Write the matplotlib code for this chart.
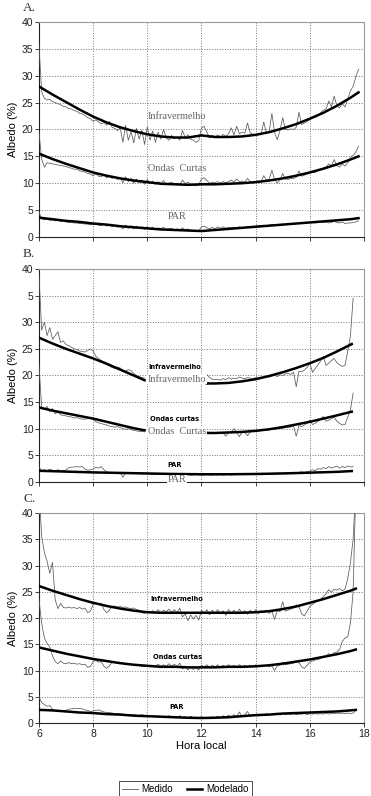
import matplotlib
matplotlib.use("Agg")
import matplotlib.pyplot as plt
import numpy as np

nan = np.nan

# ---------------- Painel A ----------------
a_ir_med = [35.7, 27.0, 25.8, 25.5, 25.6, 25.2, 25.0, 24.8, 24.6, 24.3,
            24.2, 23.9, 23.8, 23.5, 23.4, 23.0, 22.9, 22.6, 22.2, 22.0,
            21.5, 21.8, 21.4, 21.0, 21.3, 20.8, 21.5, 20.4, 20.2, 19.8,
            20.3, 17.6, 20.8, 18.0, 19.6, 17.5, 20.2, 18.2, 19.9, 17.2,
            20.5, 18.0, 19.7, 17.6, 19.5, 18.2, 20.0, 18.4, 18.0, 18.9,
            18.3, 18.6, 18.0, 19.8, 18.5, 19.0, 18.2, 18.0, 17.6, 17.9,
            20.3, 20.6, 19.5, 18.4, 18.9, 18.6, 19.0, 18.5, 19.1, 18.7,
            19.2, 20.3, 19.0, 20.6, 19.2, 19.5, 19.3, 21.2, 19.4, 19.1,
            19.0, 19.2, 19.0, 21.4, 19.3, 19.6, 23.0, 19.4, 18.1, 19.8,
            22.2, 20.0, 19.9, 20.1, 20.0, 20.4, 23.2, 20.9, 21.2, 21.5,
            21.9, 22.3, 22.2, 22.7, 23.1, 23.6, 23.8, 25.3, 24.2, 26.2,
            24.4, 24.0, 24.8, 24.2, 25.6, 27.2, 28.0, 29.8, 31.2]
a_oc_med = [19.5, 14.5, 13.0, 13.8, 13.7, 13.6, 13.5, 13.4, 13.3, 13.2,
            13.1, 12.9, 12.8, 12.6, 12.6, 12.3, 12.2, 12.1, 11.8, 11.7,
            11.4, 11.8, 11.3, 11.2, 11.6, 11.0, 11.3, 10.9, 11.2, 10.7,
            11.0, 10.1, 11.2, 10.3, 10.9, 10.0, 10.8, 10.1, 10.6, 9.8,
            10.7, 9.9, 10.4, 9.8, 10.3, 9.9, 10.5, 9.8, 10.0, 10.2,
            9.8, 10.0, 9.7, 10.6, 9.9, 10.2, 9.8, 9.7, 9.5, 9.7,
            10.8, 11.0, 10.5, 10.0, 10.2, 10.1, 10.3, 10.0, 10.3, 10.1,
            10.3, 10.6, 10.2, 10.8, 10.3, 10.4, 10.2, 10.9, 10.3, 10.2,
            10.2, 10.4, 10.3, 11.4, 10.6, 10.8, 12.4, 10.7, 10.0, 10.6,
            11.8, 10.8, 10.7, 10.9, 10.9, 11.1, 12.3, 11.3, 11.5, 11.7,
            11.9, 12.1, 12.0, 12.4, 12.6, 12.8, 13.0, 13.6, 13.2, 14.4,
            13.3, 13.0, 13.6, 13.2, 13.8, 14.8, 15.2, 15.8, 16.9]
a_par_med = [4.6, 3.4, 3.2, 3.3, 3.1, 3.2, 3.0, 3.1, 2.9, 2.9,
             2.8, 2.7, 2.7, 2.6, 2.6, 2.5, 2.5, 2.4, 2.4, 2.3,
             2.3, 2.5, 2.2, 2.1, 2.4, 2.0, 2.3, 1.9, 2.2, 1.8,
             2.1, 1.5, 2.2, 1.6, 2.1, 1.5, 2.0, 1.6, 1.9, 1.4,
             1.9, 1.5, 1.8, 1.4, 1.7, 1.5, 1.8, 1.4, 1.5, 1.6,
             1.3, 1.5, 1.3, 1.7, 1.3, 1.5, 1.2, 1.1, 1.0, 1.1,
             1.9, 2.0, 1.7, 1.5, 1.8, 1.5, 1.9, 1.6, 1.9, 1.6,
             1.8, 1.7, 1.8, 1.7, 1.9, 1.7, 1.8, 1.9, 1.9, 2.0,
             2.0, 2.1, 2.0, 2.2, 2.1, 2.2, 2.3, 2.2, 2.2, 2.3,
             2.4, 2.3, 2.4, 2.4, 2.5, 2.5, 2.6, 2.5, 2.6, 2.6,
             2.7, 2.7, 2.6, 2.7, 2.8, 2.7, 2.8, 2.6, 2.7, 2.9,
             2.7, 2.6, 2.8, 2.5, 2.6, 2.6, 2.7, 2.8, 3.0]
a_mod_t = [6.0, 6.5, 7.0, 7.5, 8.0, 8.5, 9.0, 9.5, 10.0, 10.5, 11.0, 11.5,
           12.0, 12.5, 13.0, 13.5, 14.0, 14.5, 15.0, 15.5, 16.0, 16.5,
           17.0, 17.5, 17.8]
a_ir_mod = [28.0, 26.5, 25.1, 23.7, 22.4, 21.3, 20.4, 19.7, 19.1, 18.7,
            18.5, 18.5, 18.9, 18.6, 18.6, 18.7, 19.0, 19.5, 20.2, 21.0,
            22.0, 23.1, 24.4, 25.9, 26.9]
a_oc_mod = [15.5, 14.5, 13.6, 12.8, 12.0, 11.4, 10.9, 10.5, 10.2, 9.9,
            9.8, 9.7, 9.8, 9.8, 9.9, 10.0, 10.2, 10.5, 10.9, 11.4,
            12.0, 12.7, 13.5, 14.4, 15.0]
a_par_mod = [3.6, 3.3, 3.0, 2.8, 2.5, 2.3, 2.0, 1.8, 1.6, 1.4,
             1.3, 1.2, 1.1, 1.3, 1.5, 1.7, 1.9, 2.1, 2.3, 2.5,
             2.7, 2.9, 3.1, 3.3, 3.5]

# ---------------- Painel B ----------------
b_ir_med = ([39.0, 28.5, 30.0, 27.5, 29.0, 26.8, 27.5, 28.2, 26.2, 26.5,
             25.8, 25.6, 25.3, 25.0, 24.9, 24.6, 24.5, 24.4, 24.7, 25.0,
             24.6, 23.6, 23.2, 22.8, 22.6, 22.2, 21.8, 21.5, 21.3, 21.6,
             21.4, 21.0, 20.8, 21.1, 20.9, 20.4, 20.0, 19.8, 19.6, 19.5]
            + [nan] * 22 +
            [20.2, 19.6, 19.3, 19.2, 19.3, 19.1, 19.4, 19.2,
             19.6, 19.3, 19.5, 19.4, 19.7, 19.5, 19.4, 19.6, 19.5, 19.4,
             19.6, 19.5, 19.7, 19.6, 19.8, 19.7, 19.9, 20.0, 19.8, 20.1,
             20.0, 20.3, 20.4, 20.2, 20.6, 17.9, 20.8, 20.7, 21.0, 21.5,
             22.4, 20.6, 21.3, 22.0, 22.7, 23.6, 21.9, 22.3, 22.8, 23.2,
             22.4, 22.0, 21.7, 21.9, 24.5, 27.4, 34.5])
b_oc_med = ([22.0, 14.0, 13.6, 14.2, 13.2, 13.8, 12.8, 13.2, 12.6, 12.5,
             12.4, 12.3, 12.2, 12.0, 12.1, 11.9, 11.8, 11.8, 11.9, 12.0,
             11.8, 11.3, 11.1, 11.0, 10.8, 10.7, 10.5, 10.4, 10.3, 10.4,
             10.2, 10.0, 9.9, 10.0, 9.8, 9.7, 9.6, 9.5, 9.5, 9.4]
            + [nan] * 22 +
            [9.4, 9.3, 9.3, 9.2, 9.3, 9.3, 9.2, 8.6,
             9.3, 9.4, 10.0, 9.3, 8.5, 9.4, 9.3, 8.7, 9.4, 9.5,
             9.5, 9.6, 9.6, 9.7, 9.7, 9.8, 9.9, 9.9, 10.0, 10.1,
             10.1, 10.2, 10.3, 10.3, 10.5, 8.6, 10.6, 10.4, 10.7, 11.0,
             11.6, 10.8, 11.0, 11.4, 11.8, 12.3, 11.4, 11.6, 11.9, 12.2,
             11.4, 11.0, 10.7, 10.8, 12.2, 13.5, 16.7])
b_par_med = [2.8, 2.1, 2.3, 2.1, 2.4, 2.2, 2.1, 2.3, 2.1, 2.2,
             2.2, 2.7, 2.8, 2.8, 2.9, 2.8, 2.9, 2.4, 2.2, 2.3,
             2.4, 2.8, 2.6, 2.9, 2.3, 1.9, 1.8, 1.8, 1.7, 1.8,
             1.7, 0.9, 1.7, 1.6, 1.6, 1.7, 1.6, 1.6, 1.5, 1.6,
             1.5, 1.5, 1.4, 1.5, 1.4, 1.5, 1.4, 1.4, 1.5, 1.4,
             1.4, 1.3, 1.4, 1.4, 1.3, 1.4, 1.3, 1.3, 1.4, 1.3,
             1.3, 1.3, 1.4, 1.3, 1.3, 1.4, 1.3, 1.4, 1.3, 1.4,
             1.4, 1.3, 1.4, 1.4, 1.4, 1.5, 1.4, 1.5, 1.4, 1.5,
             1.5, 1.5, 1.6, 1.5, 1.6, 1.6, 1.5, 1.6, 1.7, 1.6,
             1.7, 1.7, 1.6, 1.8, 1.7, 1.8, 1.8, 1.9, 1.8, 1.9,
             2.0, 2.3, 2.1, 2.5, 2.4, 2.7, 2.5, 2.9, 2.6, 2.8,
             3.0, 2.6, 2.9, 2.7, 3.0, 2.8, 2.9]
b_mod_t = [6.0, 6.5, 7.0, 7.5, 8.0, 8.5, 9.0, 9.5, 9.9, 11.0,
           12.2, 12.5, 13.0, 13.5, 14.0, 14.5, 15.0, 15.5, 16.0, 16.5,
           17.0, 17.55]
b_ir_mod = [27.1, 26.0, 25.0, 24.1, 23.2, 22.2, 21.1, 20.0, 19.1, nan,
            18.5, 18.5, 18.6, 18.9, 19.3, 19.9, 20.6, 21.4, 22.3, 23.3,
            24.5, 25.9]
b_oc_mod = [14.0, 13.4, 12.9, 12.4, 11.9, 11.3, 10.7, 10.1, 9.7, nan,
            9.2, 9.2, 9.3, 9.4, 9.6, 9.9, 10.3, 10.8, 11.3, 11.9,
            12.5, 13.2]
b_par_t = [6.0, 7.0, 8.0, 9.0, 10.0, 11.0, 12.0, 13.0, 14.0, 15.0,
           16.0, 17.0, 17.55]
b_par_mod = [2.1, 1.95, 1.8, 1.7, 1.6, 1.5, 1.45, 1.45, 1.5, 1.6,
             1.75, 1.9, 2.05]

# ---------------- Painel C ----------------
c_ir_med = [45.0, 35.5, 32.5, 30.8, 28.5, 30.6, 23.5, 21.8, 22.8, 22.0,
            21.9, 22.1, 21.9, 22.0, 21.8, 22.0, 21.7, 21.9, 21.0, 21.3,
            22.6, 22.9, 22.6, 22.8, 21.6, 21.0, 21.5, 22.2, 22.3, 22.1,
            22.2, 22.0, 22.1, 21.9, 21.8, 21.9, 21.6, 21.5, 21.0, 20.9,
            21.3, 21.0, 21.4, 21.1, 21.6, 21.0, 21.5, 21.2, 21.7, 21.1,
            21.6, 21.0, 21.9, 20.2, 20.8, 19.5, 20.6, 19.8, 20.5, 19.6,
            21.5, 20.9, 21.6, 20.6, 21.5, 20.9, 21.6, 20.8, 21.4, 20.5,
            21.6, 20.9, 21.5, 20.8, 21.7, 21.0, 21.4, 20.7, 21.5, 20.9,
            21.6, 20.8, 21.4, 21.0, 21.5, 20.9, 21.3, 19.7, 21.4, 21.2,
            23.1, 21.3, 21.5, 21.7, 21.9, 22.5, 22.2, 20.8, 20.4, 21.3,
            22.2, 22.6, 23.0, 23.3, 23.6, 24.1, 24.6, 25.4, 24.9, 25.5,
            25.3, 25.6, 25.2, 25.5, 27.5, 30.5, 35.0, 45.0]
c_oc_med = [23.5, 19.0, 16.2, 15.2, 14.5, 12.8, 11.7, 11.3, 11.8, 11.4,
            11.3, 11.5, 11.3, 11.4, 11.2, 11.3, 11.1, 11.2, 10.6, 10.8,
            11.7, 11.9, 11.6, 11.7, 10.8, 10.4, 10.9, 11.5, 11.5, 11.4,
            11.4, 11.3, 11.3, 11.2, 11.2, 11.1, 11.0, 11.0, 10.8, 10.7,
            10.9, 10.7, 11.0, 10.8, 11.2, 10.8, 11.1, 10.8, 11.3, 10.8,
            11.2, 10.8, 11.4, 10.3, 10.7, 10.1, 10.6, 10.2, 10.5, 10.1,
            11.0, 10.7, 11.1, 10.6, 11.0, 10.7, 11.1, 10.6, 11.0, 10.6,
            11.1, 10.7, 11.0, 10.6, 11.1, 10.7, 11.0, 10.6, 11.0, 10.7,
            11.1, 10.7, 11.0, 10.8, 11.0, 10.7, 10.9, 10.0, 10.9, 11.0,
            11.6, 11.1, 11.2, 11.3, 11.4, 11.7, 11.5, 10.7, 10.4, 11.0,
            11.6, 11.8, 12.0, 12.1, 12.3, 12.5, 12.7, 13.2, 13.0, 13.4,
            13.5, 14.0, 15.5, 16.2, 16.4, 19.0, 25.0, 45.0]
c_par_med = [5.0, 3.9, 3.5, 3.2, 3.3, 2.6, 2.4, 2.3, 2.3, 2.2,
             2.4, 2.6, 2.7, 2.8, 2.7, 2.8, 2.7, 2.5, 2.4, 2.2,
             2.3, 2.4, 2.5, 2.3, 2.1, 2.0, 2.0, 1.9, 1.8, 1.8,
             1.7, 1.7, 1.6, 1.6, 1.5, 1.6, 1.5, 1.4, 1.6, 1.4,
             1.5, 1.3, 1.4, 1.2, 1.4, 1.2, 1.3, 1.1, 1.4, 1.1,
             1.3, 1.0, 1.4, 1.0, 1.2, 0.9, 1.3, 1.0, 1.1, 0.9,
             1.2, 0.9, 1.1, 0.9, 1.2, 1.0, 1.3, 1.0, 1.4, 1.1,
             1.5, 1.1, 1.6, 1.2, 2.1, 1.2, 1.6, 2.2, 1.3, 1.5,
             1.6, 1.3, 1.7, 1.5, 1.8, 1.5, 1.7, 1.6, 1.9, 1.5,
             1.8, 1.6, 1.7, 1.6, 1.8, 1.6, 1.7, 1.7, 1.8, 1.6,
             1.8, 1.7, 1.8, 1.7, 1.8, 1.7, 1.9, 1.7, 1.8, 1.8,
             1.9, 1.8, 1.9, 1.8, 1.9, 1.8, 1.9, 2.4]
c_mod_t = [6.0, 6.5, 7.0, 7.5, 8.0, 8.5, 9.0, 9.5, 10.0, 10.5, 11.0, 11.5,
           12.0, 12.5, 13.0, 13.5, 14.0, 14.5, 15.0, 15.5, 16.0, 16.5,
           17.0, 17.5, 17.7]
c_ir_mod = [26.1, 25.2, 24.4, 23.6, 22.9, 22.3, 21.8, 21.4, 21.1, 21.0,
            21.0, 21.0, 21.0, 21.0, 21.0, 21.0, 21.1, 21.3, 21.7, 22.2,
            22.9, 23.6, 24.4, 25.2, 25.6]
c_oc_mod = [14.4, 13.8, 13.2, 12.7, 12.2, 11.8, 11.4, 11.1, 10.9, 10.7,
            10.7, 10.6, 10.6, 10.6, 10.7, 10.7, 10.8, 11.0, 11.3, 11.7,
            12.1, 12.6, 13.1, 13.7, 14.0]
c_par_mod = [2.5, 2.4, 2.2, 2.0, 1.9, 1.7, 1.6, 1.4, 1.3, 1.2,
             1.1, 1.0, 0.95, 1.0, 1.1, 1.3, 1.5, 1.6, 1.8, 1.9,
             2.0, 2.1, 2.2, 2.4, 2.5]

y_ticks = [0, 5, 10, 15, 20, 25, 30, 35, 40]
y_labels_b = ['0', '5', '10', '15', '20', '25', '30', '5', '40']
x_ticks = [6, 8, 10, 12, 14, 16, 18]

SANS = ['Liberation Sans', 'DejaVu Sans']
SERIF = ['Liberation Serif', 'DejaVu Serif']
NARROW = ['Liberation Sans Narrow', 'DejaVu Sans']

plt.rcParams['font.family'] = SANS

MED_COLOR = '#5a5a5a'


def hours(vals):
    return 6.0 + 0.1 * np.arange(len(vals))


def style_axis(ax, show_x):
    ax.set_xlim(6, 18)
    ax.set_ylim(0, 40)
    ax.set_xticks(x_ticks)
    ax.set_yticks(y_ticks)
    ax.grid(True, ls=':', color='#777777', lw=0.7)
    ax.set_axisbelow(True)
    for s in ['top', 'right']:
        ax.spines[s].set_color('#9a9a9a')
        ax.spines[s].set_linewidth(0.8)
    for s in ['left', 'bottom']:
        ax.spines[s].set_color('#222222')
        ax.spines[s].set_linewidth(0.8)
    ax.tick_params(direction='out', length=3, width=0.6, labelsize=7.5,
                   colors='#222222', pad=1)
    if not show_x:
        ax.tick_params(axis='x', labelbottom=False)
    ax.set_ylabel('Albedo (%)', fontsize=8, labelpad=3)


fig = plt.figure(figsize=(3.71, 7.96), dpi=100)
left, width = 0.105, 0.876
ax_a = fig.add_axes([left, 0.7023, width, 0.2701])
ax_b = fig.add_axes([left, 0.3945, width, 0.2676])
ax_c = fig.add_axes([left, 0.0917, width, 0.2638])

panels = [
    (ax_a, [a_ir_med, a_oc_med, a_par_med],
     [(a_mod_t, a_ir_mod), (a_mod_t, a_oc_mod), (a_mod_t, a_par_mod)]),
    (ax_b, [b_ir_med, b_oc_med, b_par_med],
     [(b_mod_t, b_ir_mod), (b_mod_t, b_oc_mod), (b_par_t, b_par_mod)]),
    (ax_c, [c_ir_med, c_oc_med, c_par_med],
     [(c_mod_t, c_ir_mod), (c_mod_t, c_oc_mod), (c_mod_t, c_par_mod)]),
]

for ax, meds, mods in panels:
    for v in meds:
        ax.plot(hours(v), v, color=MED_COLOR, lw=0.55, zorder=3)
    for t, v in mods:
        ax.plot(t, v, color='black', lw=1.8, zorder=4)

style_axis(ax_a, False)
style_axis(ax_b, False)
style_axis(ax_c, True)
ax_b.set_yticklabels(y_labels_b)
ax_c.set_xlabel('Hora local', fontsize=8, labelpad=2)

# rótulos serifados (cinza)
gray_kw = dict(family=SERIF, fontsize=7.4, color='#666666', ha='center',
               va='center', zorder=5)
ax_a.text(11.1, 22.5, 'Infravermelho', **gray_kw)
ax_a.text(11.1, 12.8, 'Ondas  Curtas', **gray_kw)
ax_a.text(11.1, 3.9, 'PAR', **gray_kw)

box = dict(facecolor='white', edgecolor='none', pad=0.3)
ax_b.text(11.1, 19.3, 'Infravermelho', bbox=box, **gray_kw)
ax_b.text(11.1, 9.4, 'Ondas  Curtas', bbox=box, **gray_kw)
ax_b.text(11.1, 0.4, 'PAR', bbox=box, **gray_kw)

# rótulos em negrito condensado
bold_kw = dict(family=NARROW, fontsize=4.8, fontweight='bold', color='black',
               ha='center', va='center', zorder=6)
ax_b.text(11.0, 21.6, 'Infravermelho', **bold_kw)
ax_b.text(11.0, 11.8, 'Ondas curtas', **bold_kw)
ax_b.text(11.0, 3.2, 'PAR', **bold_kw)
ax_c.text(11.1, 23.6, 'Infravermelho', **bold_kw)
ax_c.text(11.1, 12.6, 'Ondas curtas', **bold_kw)
ax_c.text(11.1, 3.0, 'PAR', **bold_kw)

# letras dos painéis
for y_px, lab in [(8, 'A.'), (254, 'B.'), (499, 'C.')]:
    fig.text(23 / 371, 1 - y_px / 796, lab, family=SERIF, fontsize=9.5,
             color='#333333', ha='left', va='center')

# legenda
h_med, = ax_c.plot([], [], color=MED_COLOR, lw=0.6, label='Medido')
h_mod, = ax_c.plot([], [], color='black', lw=1.8, label='Modelado')
leg = fig.legend(handles=[h_med, h_mod], loc='center',
                 bbox_to_anchor=(0.5, 1 - 789 / 796), ncol=2, fontsize=7,
                 frameon=True, fancybox=False, edgecolor='black',
                 borderpad=0.3, handlelength=1.6, handletextpad=0.4,
                 columnspacing=1.4)
leg.get_frame().set_linewidth(0.6)

fig.savefig('out.png', dpi=100)
